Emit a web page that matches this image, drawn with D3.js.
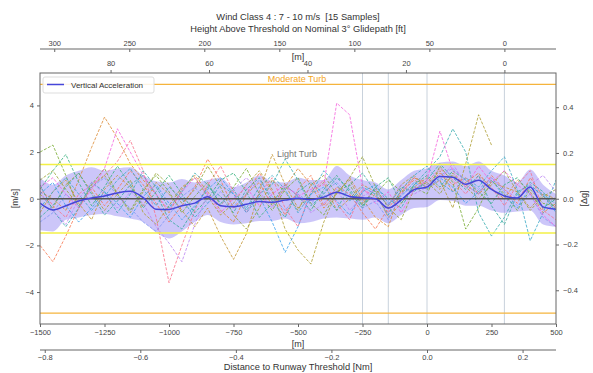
<!DOCTYPE html>
<html>
<head>
<meta charset="utf-8">
<script src="https://cdn.jsdelivr.net/npm/d3@7"></script>
<style>
  body { margin: 0; background: #fff; }
  text { font-family: "Liberation Sans", Arial, sans-serif; }
</style>
</head>
<body>
<script>

// distance to threshold [m], every 50 m
var distance = [];
for (var d = -1500; d <= 500; d += 50) { distance.push(d); }

// mean vertical acceleration [m/s] and the shaded band
var meanAcc = [-0.19, -0.48, -0.3, -0.1, 0.03, 0.12, 0.25, 0.32, 0.05, -0.45, -0.46, -0.3, -0.19, 0.08, -0.3, -0.34, -0.24, -0.12, -0.15, -0.06, 0.02, -0.04, 0.07, 0.28, 0.1, 0.04, 0.0, -0.4, -0.05, 0.39, 0.5, 0.95, 0.92, 0.62, 0.79, 0.4, 0.12, 0.03, 0.5, -0.35, -0.45];
var bandHigh = [0.9, 0.6, 1.0, 1.2, 1.35, 1.2, 1.3, 1.35, 1.0, 0.75, 0.7, 0.85, 0.7, 0.8, 0.9, 0.5, 0.7, 1.0, 0.75, 0.7, 0.9, 0.8, 0.8, 1.4, 1.0, 0.8, 0.7, 0.4, 0.8, 1.2, 1.3, 1.55, 1.6, 1.4, 1.6, 1.2, 1.0, 0.7, 1.25, 0.6, 0.2];
var bandLow = [-1.35, -1.4, -0.9, -0.8, -0.7, -0.65, -0.75, -0.85, -1.0, -1.45, -1.7, -1.4, -1.0, -0.7, -1.0, -1.1, -1.05, -0.95, -0.95, -0.85, -1.05, -1.0, -0.85, -0.8, -0.85, -0.9, -0.8, -1.05, -0.7, -0.4, -0.35, -0.05, -0.1, -0.3, -0.3, -0.5, -0.6, -0.55, -0.5, -1.1, -1.2];

// the 15 samples [m/s]
var s1 = [0.5, -0.3, -0.8, 0.2, 0.6, 1.0, 1.6, 2.5, 1.2, -0.8, -3.6, -2.0, -0.5, 0.6, 1.4, 0.3, -0.6, 0.2, 0.9, -0.4, -1.2, 0.3, 0.8, -0.2, -0.9, 0.4, 0.1, -0.6, 0.2, 0.9, 0.7, 1.3, 0.8, 0.2, 1.0, 0.5, -0.3, 0.6, 1.2, -0.5, -0.9];
var s2 = [-2.0, -2.7, -1.6, -0.4, 0.5, -0.3, 0.4, 1.2, 0.6, -0.2, -1.0, -0.3, 0.5, 1.7, 0.8, -0.4, 0.2, 1.1, 0.3, -0.7, 0.4, 1.0, -0.3, 0.5, 0.2, -0.6, -1.3, -0.4, 0.3, 0.8, 0.5, 1.1, 0.6, 0.9, 0.2, 1.0, 0.4, -0.2, 0.9, 0.1, -0.4];
var s3 = [0.3, 0.0, -0.5, 0.8, 2.2, 3.5, 2.6, 1.5, 0.8, 0.2, -0.6, 0.4, 1.0, 0.3, -0.5, -1.0, 0.2, 0.7, -0.3, 0.5, 1.3, 0.6, -0.4, 0.2, 0.9, 0.0, -0.8, -1.2, 0.4, 0.9, 0.6, 1.2, 0.3, 0.7, 1.1, 0.4, 0.0, 0.8, 0.3, -0.6, -0.2];
var s4 = [-0.6, 0.3, 0.8, -0.2, -0.9, 0.4, 1.0, 0.5, -0.3, 0.7, 0.2, -0.5, -1.2, -0.4, -1.6, -2.6, -1.5, 0.3, 1.9, 0.6, -0.4, 0.2, 0.7, -0.5, 0.0, 0.6, 0.3, -0.8, -0.2, 0.5, 0.9, 0.4, 1.0, 0.6, 0.2, 0.7, 0.5, 0.3, -0.4, 0.2, 0.0];
var s5 = [0.2, -0.4, 0.6, 1.1, 0.3, -0.5, 0.2, 0.8, -0.6, -1.1, -0.3, 0.5, 0.9, 0.1, -0.7, -0.2, 0.6, 1.2, 0.4, -1.3, -2.2, -2.8, -1.0, 0.3, 0.8, -0.2, 0.4, -0.3, 0.6, 1.0, 0.4, 0.8, -0.4, 1.5, 3.6, 2.3, null, null, null, null, null];
var s6 = [0.8, 1.2, 0.4, -0.3, 0.5, 1.0, 0.2, -0.6, 0.3, 1.1, 0.6, -0.2, 0.4, 1.4, 0.5, -0.7, -1.3, -0.4, 0.8, 0.3, -0.5, 0.6, 1.0, 0.2, 0.9, 1.8, 0.5, -0.4, -0.9, 0.4, 0.7, 0.2, 1.1, 0.5, 0.0, 0.6, 1.2, 0.3, -0.5, 0.1, 0.4];
var s7 = [2.0, 2.3, 1.0, -0.4, 0.6, 1.3, 0.2, -0.5, 0.4, 1.0, 0.3, -0.6, 0.1, 0.7, -0.3, 0.5, 1.3, 0.2, -0.5, 0.4, 0.9, -0.2, -0.7, 0.3, 0.6, -0.3, 0.2, 0.8, 0.3, 0.5, 0.2, 1.4, 0.7, -1.3, -0.4, 0.8, 0.2, -0.5, 0.4, -0.2, -0.3];
var s8 = [0.4, 1.2, 1.9, 0.7, -0.3, 0.5, 1.4, 0.6, -0.4, 0.3, 1.0, 0.2, -0.6, 0.0, 0.8, 1.1, 0.3, -0.8, -0.2, 0.6, 0.1, -0.5, 0.4, 1.0, 0.3, -0.4, 0.5, 0.9, -0.2, 0.6, 1.0, 0.5, 1.2, 0.8, 0.3, -0.2, 0.6, 0.9, 0.2, -0.4, 0.0];
var s9 = [-0.8, -0.3, 0.5, 1.1, 0.2, -0.7, -0.1, 0.6, 1.0, 0.2, -0.9, -1.3, -0.4, 0.5, 0.1, -0.6, 0.4, 0.9, -0.1, -0.8, 0.3, 0.7, 0.2, -0.5, 0.6, 1.1, 0.3, -0.3, 0.5, 0.3, 0.8, 1.5, 0.9, 0.4, 1.0, -0.3, -1.1, 0.2, 0.7, 0.3, -0.5];
var s10 = [0.6, -0.5, -1.2, -0.4, 0.7, 0.3, -0.6, 0.2, 1.2, 0.5, -0.4, 0.3, 1.1, 0.6, -0.2, 0.4, -0.5, 0.2, 0.6, 1.7, 0.8, -0.3, 0.2, 0.9, 0.4, -0.3, 0.5, 0.0, -0.4, 0.6, 1.2, 1.8, 3.0, 2.0, -0.6, -1.6, -0.8, 0.3, 0.6, 0.1, -0.2];
var s11 = [-0.4, 0.3, 0.9, 0.2, -0.5, 0.1, 0.8, 1.3, 0.4, -0.3, 0.5, 0.0, -0.8, -0.2, 0.6, 0.2, -0.4, 0.5, 1.0, 0.4, -0.6, 0.2, 1.2, 0.6, -0.1, 0.5, 0.2, -0.7, 0.4, 1.0, 1.4, 0.7, 0.3, 0.9, 0.5, 1.2, 1.8, 0.4, -1.8, -0.6, 0.8];
var s12 = [0.2, 0.7, -0.3, -1.0, -0.4, 0.3, -0.2, -0.8, 0.1, 0.6, -0.2, -0.9, -0.3, 0.4, 0.9, 0.2, -0.6, 0.1, -1.0, -2.3, -1.2, 0.2, 0.5, -0.1, -0.7, 0.3, 0.6, -0.2, 0.1, 0.7, 0.4, 0.9, 0.5, -0.2, 0.3, 0.8, 0.1, -0.4, 0.5, 0.2, -0.6];
var s13 = [-1.0, -0.6, 0.2, -0.3, 0.5, 0.9, 0.1, -0.4, -1.0, -1.4, -0.7, 0.1, 0.5, -0.2, 0.3, -0.3, 0.2, 0.8, 0.1, -0.5, 0.2, -0.2, 0.3, 0.7, 0.1, -0.4, -0.1, -0.9, 0.2, 0.5, 0.6, 1.0, 1.3, 0.8, 0.4, 0.9, 0.3, -0.3, 0.2, -0.8, -1.2];
var s14 = [0.3, -0.5, -1.1, 0.0, 0.7, 0.2, -0.4, 0.3, -0.2, -1.2, -1.9, -2.7, -1.1, 0.2, -0.3, 0.4, 0.9, 0.3, -0.4, 0.5, 0.2, -0.6, -0.2, 0.4, -0.5, 0.1, 0.4, -0.3, 0.6, 0.2, 0.5, 0.8, 1.5, 0.6, 0.2, 0.9, 0.4, 0.0, 0.6, 1.0, 0.3];
var s15 = [0.5, 0.9, 0.2, -0.4, 0.4, 1.3, 3.0, 2.0, 1.0, 0.2, -0.5, 0.3, 0.9, 0.2, -0.6, 0.0, 0.5, -0.3, 0.2, 0.6, 0.1, 0.4, 0.6, 4.1, 3.6, 0.5, -0.2, 0.3, -0.6, 0.4, 0.8, 2.9, 1.2, 0.5, 1.4, 0.7, 1.2, 0.6, 0.2, -0.7, -1.2];
var samples = [s1, s2, s3, s4, s5, s6, s7, s8, s9, s10, s11, s12, s13, s14, s15];
var sampleColors = ["#f77189", "#f7754f", "#dc8932", "#c39532", "#ae9d31", "#97a431", "#77ab31", "#33b07a", "#35ad9c", "#36abae", "#38a9c5", "#3ba3ec", "#8197f4", "#bb83f4", "#f561dd"];

// turbulence limits [m/s] and marker distances [m]
var lightTurb = 1.47;
var moderateTurb = 4.905;
var markerDist = [-250, -150, 0, 300];

// tick labels
var xTicks = [-1500, -1250, -1000, -750, -500, -250, 0, 250, 500];
var yTicks = [-4, -2, 0, 2, 4];
var gTicks = [-0.4, -0.2, 0.0, 0.2, 0.4];
var ftTicks = [300, 250, 200, 150, 100, 50, 0];
var mTicks = [80, 60, 40, 20, 0];
var nmTicks = [-0.8, -0.6, -0.4, -0.2, 0.0, 0.2];

window.onload = function() {
	drawChart();
};

function drawChart() {

	var left = 40, right = 556, top = 73, bottom = 324;
	var grey = "#444";

	var svg = d3.select("body")
				.append("svg")
				.attr("width", 593)
				.attr("height", 373);

	svg.append("rect").attr("width", 593).attr("height", 373).attr("fill", "#fff");

	// scales
	var xScale = d3.scaleLinear().domain([-1500, 500]).range([left, right]);
	var yScale = d3.scaleLinear().domain([-5.37, 5.39]).range([bottom, top]);
	var gScale = d3.scaleLinear().domain([-5.37 / 9.81, 5.39 / 9.81]).range([bottom, top]);

	// height on the glidepath, touchdown 300 m after threshold
	var tan3 = Math.tan(3 * Math.PI / 180);
	var hM = function(dist) { return (300 - dist) * tan3; };
	var mScale = d3.scaleLinear().domain([hM(-1500), hM(500)]).range([left, right]);
	var ftScale = d3.scaleLinear().domain([hM(-1500) / 0.3048, hM(500) / 0.3048]).range([left, right]);
	var nmScale = d3.scaleLinear().domain([-1500 / 1852, 500 / 1852]).range([left, right]);

	var plot = svg.append("g");

	plot.append("clipPath").attr("id", "clip")
		.append("rect").attr("x", left).attr("y", top).attr("width", right - left).attr("height", bottom - top);

	var inner = plot.append("g").attr("clip-path", "url(#clip)");

	// vertical marker lines
	inner.selectAll(".marker")
		.data(markerDist)
		.enter()
		.append("line")
		.attr("x1", function(d) { return xScale(d); })
		.attr("x2", function(d) { return xScale(d); })
		.attr("y1", top)
		.attr("y2", bottom)
		.attr("stroke", "#c9d2dc")
		.attr("stroke-width", 1);

	// band
	var area = d3.area()
				 .x(function(d, i) { return xScale(distance[i]); })
				 .y0(function(d, i) { return yScale(bandLow[i]); })
				 .y1(function(d, i) { return yScale(bandHigh[i]); })
				 .curve(d3.curveMonotoneX);

	inner.append("path")
		 .datum(meanAcc)
		 .attr("d", area)
		 .attr("fill", "#8070f0")
		 .attr("fill-opacity", 0.4);

	// samples
	var line = d3.line()
				 .defined(function(d) { return d !== null; })
				 .x(function(d, i) { return xScale(distance[i]); })
				 .y(function(d) { return yScale(d); });

	inner.selectAll(".sample")
		 .data(samples)
		 .enter()
		 .append("path")
		 .attr("d", line)
		 .attr("fill", "none")
		 .attr("stroke", function(d, i) { return sampleColors[i]; })
		 .attr("stroke-width", 1)
		 .attr("stroke-opacity", 0.8)
		 .attr("stroke-dasharray", "3,1.5");

	// turbulence limits
	[lightTurb, -lightTurb].forEach(function(v) {
		inner.append("line")
			 .attr("x1", left).attr("x2", right)
			 .attr("y1", yScale(v)).attr("y2", yScale(v))
			 .attr("stroke", "#f3f046").attr("stroke-width", 1.6);
	});
	[moderateTurb, -moderateTurb].forEach(function(v) {
		inner.append("line")
			 .attr("x1", left).attr("x2", right)
			 .attr("y1", yScale(v)).attr("y2", yScale(v))
			 .attr("stroke", "#f5b43c").attr("stroke-width", 1.3);
	});

	// zero line
	inner.append("line")
		 .attr("x1", left).attr("x2", right)
		 .attr("y1", yScale(0)).attr("y2", yScale(0))
		 .attr("stroke", "#555").attr("stroke-width", 1.3);

	// mean line
	inner.append("path")
		 .datum(meanAcc)
		 .attr("d", d3.line()
		 		.x(function(d, i) { return xScale(distance[i]); })
		 		.y(function(d) { return yScale(d); })
		 		.curve(d3.curveMonotoneX))
		 .attr("fill", "none")
		 .attr("stroke", "#4646da")
		 .attr("stroke-width", 1.5);

	// labels in the plot
	svg.append("text")
	   .attr("x", 297).attr("y", 81.5)
	   .style("text-anchor", "middle")
	   .style("font-size", "9px")
	   .attr("fill", "#f5a623")
	   .text("Moderate Turb");

	svg.append("text")
	   .attr("x", 297).attr("y", 156.5)
	   .style("text-anchor", "middle")
	   .style("font-size", "9px")
	   .attr("fill", "#777")
	   .text("Light Turb");

	// frame
	svg.append("rect")
	   .attr("x", left).attr("y", top)
	   .attr("width", right - left).attr("height", bottom - top)
	   .attr("fill", "none")
	   .attr("stroke", "#666")
	   .attr("stroke-width", 1);

	// axes
	function styleAxis(g) {
		g.select(".domain").remove();
		g.selectAll(".tick line").attr("stroke", "#666");
		g.selectAll(".tick text").attr("fill", grey).style("font-size", "7.5px")
		 .style("font-family", "'Liberation Sans', Arial, sans-serif");
	}

	svg.append("g")
	   .attr("transform", "translate(0," + bottom + ")")
	   .call(d3.axisBottom(xScale).tickValues(xTicks).tickSize(3).tickPadding(3).tickFormat(d3.format("d")))
	   .call(styleAxis);

	svg.append("g")
	   .attr("transform", "translate(" + left + ",0)")
	   .call(d3.axisLeft(yScale).tickValues(yTicks).tickSize(3).tickPadding(3))
	   .call(styleAxis);

	svg.append("g")
	   .attr("transform", "translate(" + right + ",0)")
	   .call(d3.axisRight(gScale).tickValues(gTicks).tickSize(3).tickPadding(4).tickFormat(d3.format(".1f")))
	   .call(styleAxis);

	// height axis in m on top of the plot
	svg.append("g")
	   .attr("transform", "translate(0," + top + ")")
	   .call(d3.axisTop(mScale).tickValues(mTicks).tickSize(3).tickPadding(4))
	   .call(styleAxis);

	// height axis in ft
	var ftAxis = svg.append("g")
	   .attr("transform", "translate(0,49)")
	   .call(d3.axisBottom(ftScale).tickValues(ftTicks).tickSize(3))
	   .call(styleAxis);
	ftAxis.selectAll(".tick text").attr("y", -8);
	ftAxis.append("line").attr("x1", left).attr("x2", right)
		  .attr("stroke", "#666").attr("stroke-width", 1);

	// distance in Nm
	var nmAxis = svg.append("g")
	   .attr("transform", "translate(0,350)")
	   .call(d3.axisBottom(nmScale).tickValues(nmTicks).tickSize(3).tickPadding(2).tickFormat(d3.format(".1f")))
	   .call(styleAxis);
	nmAxis.append("line").attr("x1", left).attr("x2", right)
		  .attr("stroke", "#666").attr("stroke-width", 1);

	// axis titles
	var mid = (left + right) / 2;
	function label(x, y, txt, size, rot) {
		var t = svg.append("text")
				   .attr("transform", "translate(" + x + "," + y + ")" + (rot ? " rotate(" + rot + ")" : ""))
				   .style("text-anchor", "middle")
				   .style("font-size", size + "px")
				   .attr("fill", "#333")
				   .text(txt);
		return t;
	}
	label(mid, 19.5, "Wind Class 4 : 7 - 10 m/s  [15 Samples]", 9.3, 0).style("white-space", "pre");
	label(mid, 31.5, "Height Above Threshold on Nominal 3\u00b0 Glidepath [ft]", 9.3, 0);
	label(mid, 60, "[m]", 9, 0);
	label(mid, 346.5, "[m]", 9, 0);
	label(mid, 370, "Distance to Runway Threshold [Nm]", 9.3, 0);
	label(18, (top + bottom) / 2, "[m/s]", 9, -90);
	label(587, (top + bottom) / 2, "[\u0394g]", 9, -90);

	// legend
	var legend = svg.append("g");
	legend.append("rect")
		  .attr("x", 43).attr("y", 77).attr("width", 111).attr("height", 16)
		  .attr("rx", 2)
		  .attr("fill", "#fff").attr("fill-opacity", 0.85)
		  .attr("stroke", "#ddd");
	legend.append("line")
		  .attr("x1", 47).attr("x2", 64).attr("y1", 84.5).attr("y2", 84.5)
		  .attr("stroke", "#4646da").attr("stroke-width", 1.5);
	legend.append("text")
		  .attr("x", 71).attr("y", 87.5)
		  .style("font-size", "8px")
		  .attr("fill", "#333")
		  .text("Vertical Acceleration");
}

</script>
</body>
</html>
